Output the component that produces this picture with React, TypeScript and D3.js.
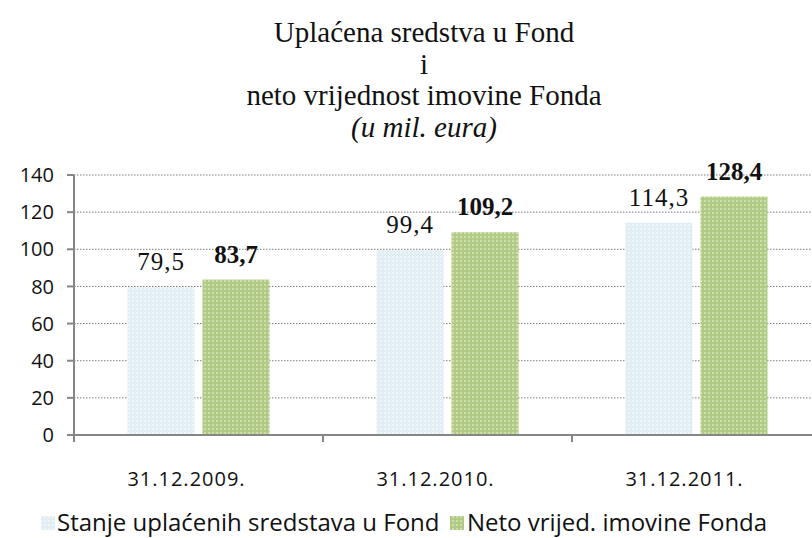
import * as d3 from 'd3';

// podaci
const categories = ['31.12.2009.', '31.12.2010.', '31.12.2011.'];
const seriesNames = ['Stanje uplaćenih sredstava u Fond', 'Neto vrijed. imovine Fonda'];
const uplacena = [79.5, 99.4, 114.3];
const netoVrijednost = [83.7, 109.2, 128.4];
const yTicks = [0, 20, 40, 60, 80, 100, 120, 140];
const titleLines = ['Uplaćena sredstva u Fond', 'i', 'neto vrijednost imovine Fonda'];
const subtitle = '(u mil. eura)';

const W = 812;
const H = 538;
const plot = { left: 74, right: 821, top: 175, bottom: 435 };

const fmt = (v: number) => v.toFixed(1).replace('.', ',');

export default function App() {
  const x = d3.scaleBand<string>().domain(categories).range([plot.left, plot.right]);
  const y = d3.scaleLinear().domain([0, 140]).range([plot.bottom, plot.top]);

  const barW = 67;
  const gap = 8;
  const series = [
    { name: seriesNames[0], values: uplacena, fill: 'url(#patLight)', bold: false },
    { name: seriesNames[1], values: netoVrijednost, fill: 'url(#patGreen)', bold: true },
  ];

  const serif = '"Liberation Serif", "Times New Roman", serif';
  const sans = '"Open Sans", sans-serif';

  return (
    <svg width={W} height={H} style={{ position: 'absolute', left: 0, top: 0, background: '#fff' }}>
      <defs>
        <pattern id='patLight' width={4} height={4} patternUnits='userSpaceOnUse'>
          <rect width={4} height={4} fill='#e1edf2' />
          <rect width={2} height={2} fill='#eff6f9' />
        </pattern>
        <pattern id='patGreen' width={4} height={4} patternUnits='userSpaceOnUse'>
          <rect width={4} height={4} fill='#b1ca85' />
          <rect width={2} height={2} fill='#cddfab' />
        </pattern>
      </defs>

      {/* naslov */}
      <g fontFamily={serif} fontSize={29} fill='#111' textAnchor='middle'>
        {titleLines.map((t, i) => (
          <text key={t} x={424} y={42 + i * 31.5}>
            {t}
          </text>
        ))}
        <text x={424} y={42 + 3 * 31.5} fontStyle='italic'>
          {subtitle}
        </text>
      </g>

      {/* mreža */}
      {yTicks.slice(1).map((t) => (
        <line
          key={t}
          x1={plot.left}
          x2={W}
          y1={y(t)}
          y2={y(t)}
          stroke='#7a7a7a'
          strokeWidth={1}
          strokeDasharray='1.5,1.5'
        />
      ))}

      {/* stupci */}
      {categories.map((c, ci) => {
        const cx = (x(c) ?? 0) + x.bandwidth() / 2;
        return (
          <g key={c}>
            {series.map((s, si) => {
              const bx = si === 0 ? cx - gap / 2 - barW : cx + gap / 2;
              const v = s.values[ci];
              return (
                <g key={s.name}>
                  <rect x={bx} y={y(v)} width={barW} height={y(0) - y(v)} fill={s.fill} />
                  <text
                    x={bx + barW / 2}
                    y={y(v) - 17}
                    textAnchor='middle'
                    fontFamily={serif}
                    fontSize={25}
                    fontWeight={s.bold ? 'bold' : 'normal'}
                    letterSpacing={s.bold ? 0 : 1}
                    fill='#111'
                  >
                    {fmt(v)}
                  </text>
                </g>
              );
            })}
          </g>
        );
      })}

      {/* osi */}
      <g stroke='#868686' strokeWidth={2}>
        <line x1={plot.left} x2={plot.left} y1={plot.top} y2={plot.bottom} />
        <line x1={plot.left} x2={W} y1={plot.bottom} y2={plot.bottom} />
        {yTicks.map((t) => (
          <line key={t} x1={plot.left - 7} x2={plot.left} y1={y(t)} y2={y(t)} />
        ))}
        {categories.map((c) => (
          <line key={c} x1={x(c) ?? 0} x2={x(c) ?? 0} y1={plot.bottom} y2={plot.bottom + 7} />
        ))}
      </g>

      <g fontFamily={sans} fontSize={20} fill='#111'>
        {yTicks.map((t) => (
          <text key={t} x={plot.left - 20} y={y(t)} dy='0.36em' textAnchor='end'>
            {t}
          </text>
        ))}
        {categories.map((c) => (
          <text key={c} x={(x(c) ?? 0) + x.bandwidth() / 2 - 12} y={486} textAnchor='middle' letterSpacing={1}>
            {c}
          </text>
        ))}
      </g>

      {/* legenda */}
      <g fontFamily={sans} fontSize={24} fill='#111'>
        <rect x={41} y={516} width={14} height={14} fill='url(#patLight)' />
        <text x={57} y={531}>
          {seriesNames[0]}
        </text>
        <rect x={450} y={516} width={14} height={14} fill='url(#patGreen)' />
        <text x={467} y={531}>
          {seriesNames[1]}
        </text>
      </g>
    </svg>
  );
}
